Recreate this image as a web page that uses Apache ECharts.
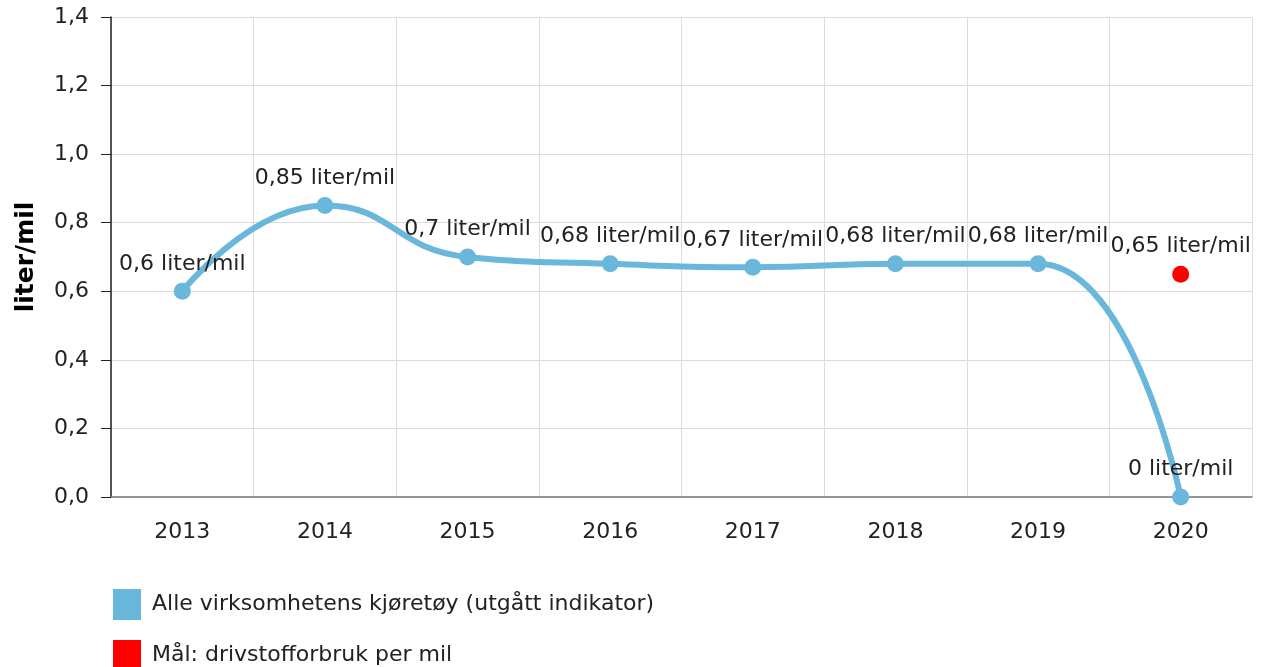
<!DOCTYPE html>
<html>
<head>
<meta charset="utf-8">
<script src="https://cdn.jsdelivr.net/npm/echarts@6/dist/echarts.min.js"></script>
<style>
  html, body { margin: 0; padding: 0; background: #fff; }
  #chart { width: 1265px; height: 667px; }
</style>
</head>
<body>
<div id="chart"></div>
<script>
const years = ['2013', '2014', '2015', '2016', '2017', '2018', '2019', '2020']
const vehicleValues = [0.6, 0.85, 0.7, 0.68, 0.67, 0.68, 0.68, 0]
const targetValues = [null, null, null, null, null, null, null, 0.65]
const seriesNames = ['Alle virksomhetens kjøretøy (utgått indikator)', 'Mål: drivstofforbruk per mil']
const unit = 'liter/mil'

const font = '"DejaVu Sans", Verdana, sans-serif'
const comma = v => String(v).replace('.', ',')

const chart = echarts.init(document.getElementById('chart'))

const labelStyle = {
  show: true,
  position: 'top',
  distance: 8,
  fontFamily: font,
  fontSize: 22,
  color: '#222',
  formatter: p => comma(p.value) + ' ' + unit
}

const option = {
  animation: false,
  textStyle: { fontFamily: font },
  grid: {
    left: 111,
    right: 13,
    top: 17,
    bottom: 170
  },
  legend: {
    orient: 'vertical',
    left: 108,
    top: 584,
    height: 140,
    icon: 'rect',
    itemWidth: 28,
    itemHeight: 31,
    itemGap: 20,
    textStyle: { fontFamily: font, fontSize: 22, color: '#222', padding: [0, 0, 0, 6] },
    data: seriesNames
  },
  xAxis: {
    type: 'category',
    data: years,
    boundaryGap: true,
    axisLine: { lineStyle: { color: '#777', width: 1.5 } },
    axisTick: { alignWithLabel: true, length: 9, lineStyle: { color: '#aaa' } },
    axisLabel: { fontFamily: font, fontSize: 22, color: '#222', margin: 24 },
    splitLine: { show: true, lineStyle: { color: '#dcdcdc' } }
  },
  yAxis: {
    type: 'value',
    min: 0,
    max: 1.4,
    interval: 0.2,
    name: unit,
    nameLocation: 'middle',
    nameGap: 72,
    nameTextStyle: { fontFamily: font, fontSize: 25, fontWeight: 'bold', color: '#000' },
    axisLine: { show: true, lineStyle: { color: '#222', width: 1.5 } },
    axisTick: { show: true, length: 10, lineStyle: { color: '#222' } },
    axisLabel: {
      fontFamily: font, fontSize: 22, color: '#222', margin: 22,
      formatter: v => v.toFixed(1).replace('.', ',')
    },
    splitLine: { lineStyle: { color: '#dcdcdc' } }
  },
  series: [
    {
      name: seriesNames[0],
      type: 'line',
      data: vehicleValues,
      smooth: 0.5,
      symbol: 'circle',
      symbolSize: 17,
      itemStyle: { color: '#6ab7dc' },
      lineStyle: { width: 6, color: '#6ab7dc' },
      label: labelStyle,
      z: 3
    },
    {
      name: seriesNames[1],
      type: 'line',
      data: targetValues,
      symbol: 'circle',
      symbolSize: 17,
      itemStyle: { color: '#ff0000' },
      lineStyle: { width: 0 },
      label: labelStyle,
      z: 4
    }
  ]
}

chart.setOption(option)
</script>
</body>
</html>
